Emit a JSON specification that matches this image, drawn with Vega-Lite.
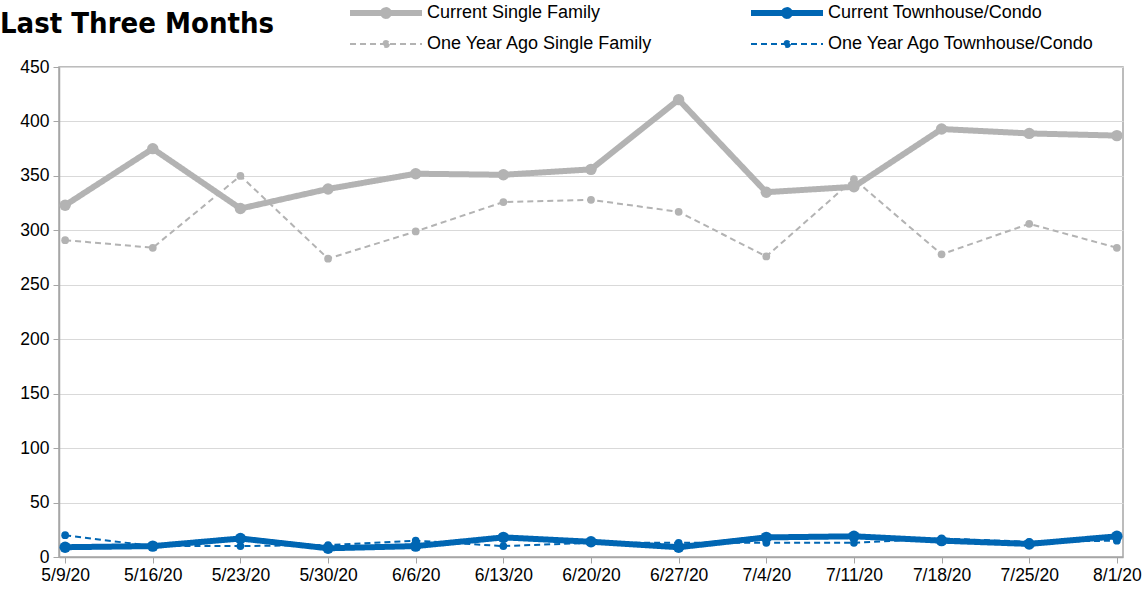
{
  "$schema": "https://vega.github.io/schema/vega-lite/v6.json",
  "width": 1064,
  "height": 490,
  "autosize": {"type": "none"},
  "padding": {"left": 59, "top": 67, "right": 20, "bottom": 37},
  "background": "#ffffff",
  "config": {
    "font": "Liberation Sans",
    "view": {"stroke": "#A6A6A6", "strokeWidth": 1.5}
  },
  "title": {
    "text": "Last Three Months",
    "anchor": "start",
    "frame": "group",
    "dx": -59,
    "font": "DejaVu Sans Condensed, Liberation Sans",
    "fontWeight": "bold",
    "fontSize": 29,
    "color": "#000000",
    "offset": -64,
    "baseline": "alphabetic"
  },
  "data": {
    "values": [
      {"date": "5/9/20", "series": "Current Single Family", "value": 323},
      {"date": "5/16/20", "series": "Current Single Family", "value": 375},
      {"date": "5/23/20", "series": "Current Single Family", "value": 320},
      {"date": "5/30/20", "series": "Current Single Family", "value": 338},
      {"date": "6/6/20", "series": "Current Single Family", "value": 352},
      {"date": "6/13/20", "series": "Current Single Family", "value": 351},
      {"date": "6/20/20", "series": "Current Single Family", "value": 356},
      {"date": "6/27/20", "series": "Current Single Family", "value": 420},
      {"date": "7/4/20", "series": "Current Single Family", "value": 335},
      {"date": "7/11/20", "series": "Current Single Family", "value": 340},
      {"date": "7/18/20", "series": "Current Single Family", "value": 393},
      {"date": "7/25/20", "series": "Current Single Family", "value": 389},
      {"date": "8/1/20", "series": "Current Single Family", "value": 387},
      {"date": "5/9/20", "series": "One Year Ago Single Family", "value": 291},
      {"date": "5/16/20", "series": "One Year Ago Single Family", "value": 284},
      {"date": "5/23/20", "series": "One Year Ago Single Family", "value": 350},
      {"date": "5/30/20", "series": "One Year Ago Single Family", "value": 274},
      {"date": "6/6/20", "series": "One Year Ago Single Family", "value": 299},
      {"date": "6/13/20", "series": "One Year Ago Single Family", "value": 326},
      {"date": "6/20/20", "series": "One Year Ago Single Family", "value": 328},
      {"date": "6/27/20", "series": "One Year Ago Single Family", "value": 317},
      {"date": "7/4/20", "series": "One Year Ago Single Family", "value": 276},
      {"date": "7/11/20", "series": "One Year Ago Single Family", "value": 347},
      {"date": "7/18/20", "series": "One Year Ago Single Family", "value": 278},
      {"date": "7/25/20", "series": "One Year Ago Single Family", "value": 306},
      {"date": "8/1/20", "series": "One Year Ago Single Family", "value": 284},
      {"date": "5/9/20", "series": "Current Townhouse/Condo", "value": 9},
      {"date": "5/16/20", "series": "Current Townhouse/Condo", "value": 10},
      {"date": "5/23/20", "series": "Current Townhouse/Condo", "value": 17},
      {"date": "5/30/20", "series": "Current Townhouse/Condo", "value": 8},
      {"date": "6/6/20", "series": "Current Townhouse/Condo", "value": 10},
      {"date": "6/13/20", "series": "Current Townhouse/Condo", "value": 18},
      {"date": "6/20/20", "series": "Current Townhouse/Condo", "value": 14},
      {"date": "6/27/20", "series": "Current Townhouse/Condo", "value": 9},
      {"date": "7/4/20", "series": "Current Townhouse/Condo", "value": 18},
      {"date": "7/11/20", "series": "Current Townhouse/Condo", "value": 19},
      {"date": "7/18/20", "series": "Current Townhouse/Condo", "value": 15},
      {"date": "7/25/20", "series": "Current Townhouse/Condo", "value": 12},
      {"date": "8/1/20", "series": "Current Townhouse/Condo", "value": 19},
      {"date": "5/9/20", "series": "One Year Ago Townhouse/Condo", "value": 20},
      {"date": "5/16/20", "series": "One Year Ago Townhouse/Condo", "value": 10},
      {"date": "5/23/20", "series": "One Year Ago Townhouse/Condo", "value": 10},
      {"date": "5/30/20", "series": "One Year Ago Townhouse/Condo", "value": 11},
      {"date": "6/6/20", "series": "One Year Ago Townhouse/Condo", "value": 15},
      {"date": "6/13/20", "series": "One Year Ago Townhouse/Condo", "value": 10},
      {"date": "6/20/20", "series": "One Year Ago Townhouse/Condo", "value": 13},
      {"date": "6/27/20", "series": "One Year Ago Townhouse/Condo", "value": 13},
      {"date": "7/4/20", "series": "One Year Ago Townhouse/Condo", "value": 13},
      {"date": "7/11/20", "series": "One Year Ago Townhouse/Condo", "value": 13},
      {"date": "7/18/20", "series": "One Year Ago Townhouse/Condo", "value": 17},
      {"date": "7/25/20", "series": "One Year Ago Townhouse/Condo", "value": 14},
      {"date": "8/1/20", "series": "One Year Ago Townhouse/Condo", "value": 15}
    ]
  },
  "encoding": {
    "x": {
      "field": "date",
      "type": "ordinal",
      "sort": null,
      "scale": {"type": "point", "padding": 0.07},
      "axis": {
        "title": null,
        "labelAngle": 0,
        "labelFontSize": 17.5,
        "labelColor": "#000000",
        "domainColor": "#A6A6A6",
        "domainWidth": 1.5,
        "tickColor": "#A6A6A6",
        "tickSize": 6,
        "labelPadding": 3,
        "grid": false
      }
    },
    "y": {
      "field": "value",
      "type": "quantitative",
      "scale": {"domain": [0, 450], "nice": false},
      "axis": {
        "title": null,
        "values": [0, 50, 100, 150, 200, 250, 300, 350, 400, 450],
        "labelFontSize": 17.5,
        "labelColor": "#000000",
        "domainColor": "#A6A6A6",
        "domainWidth": 1.5,
        "tickColor": "#A6A6A6",
        "tickSize": 6,
        "labelPadding": 4,
        "gridColor": "#D9D9D9",
        "gridWidth": 1
      }
    }
  },
  "layer": [
    {
      "mark": {"type": "line", "strokeCap": "butt"},
      "encoding": {
        "color": {
          "field": "series",
          "type": "nominal",
          "scale": {
            "domain": ["Current Single Family", "One Year Ago Single Family", "Current Townhouse/Condo", "One Year Ago Townhouse/Condo"],
            "range": ["#B3B3B3", "#B3B3B3", "#0066B3", "#0066B3"]
          },
          "legend": {
            "orient": "none",
            "legendX": 288,
            "legendY": -69.5,
            "columns": 2,
            "title": null,
            "padding": 0,
            "symbolType": "M-1,0H1M0.08,0A0.08,0.08,0,1,1,-0.08,0A0.08,0.08,0,1,1,0.08,0Z",
            "symbolSize": 5184,
            "clipHeight": 31,
            "labelFontSize": 18,
            "labelColor": "#000000",
            "labelOffset": 2,
            "labelLimit": 0,
            "rowPadding": 0,
            "columnPadding": 95,
            "encode": {
              "symbols": {
                "update": {
                  "fill": {"scale": "color", "field": "value"}
                }
              }
            }
          }
        },
        "strokeDash": {
          "field": "series",
          "type": "nominal",
          "scale": {
            "domain": ["Current Single Family", "One Year Ago Single Family", "Current Townhouse/Condo", "One Year Ago Townhouse/Condo"],
            "range": [[1, 0], [6, 4], [1, 0], [6, 4]]
          }
        },
        "strokeWidth": {
          "field": "series",
          "type": "nominal",
          "scale": {
            "type": "ordinal",
            "domain": ["Current Single Family", "One Year Ago Single Family", "Current Townhouse/Condo", "One Year Ago Townhouse/Condo"],
            "range": [6, 2, 6, 2]
          }
        }
      }
    },
    {
      "transform": [{"filter": {"field": "series", "oneOf": ["One Year Ago Single Family", "One Year Ago Townhouse/Condo"]}}],
      "mark": {"type": "point", "filled": true, "opacity": 1, "shape": "circle", "size": 60},
      "encoding": {
        "fill": {
          "field": "series",
          "type": "nominal",
          "scale": {
            "domain": ["Current Single Family", "One Year Ago Single Family", "Current Townhouse/Condo", "One Year Ago Townhouse/Condo"],
            "range": ["#B3B3B3", "#B3B3B3", "#0066B3", "#0066B3"]
          },
          "legend": null
        }
      }
    },
    {
      "transform": [{"filter": {"field": "series", "oneOf": ["Current Single Family", "Current Townhouse/Condo"]}}],
      "mark": {"type": "point", "filled": true, "opacity": 1, "shape": "circle", "size": 130},
      "encoding": {
        "fill": {
          "field": "series",
          "type": "nominal",
          "scale": {
            "domain": ["Current Single Family", "One Year Ago Single Family", "Current Townhouse/Condo", "One Year Ago Townhouse/Condo"],
            "range": ["#B3B3B3", "#B3B3B3", "#0066B3", "#0066B3"]
          },
          "legend": null
        }
      }
    }
  ],
  "resolve": {"scale": {"fill": "independent"}}
}
